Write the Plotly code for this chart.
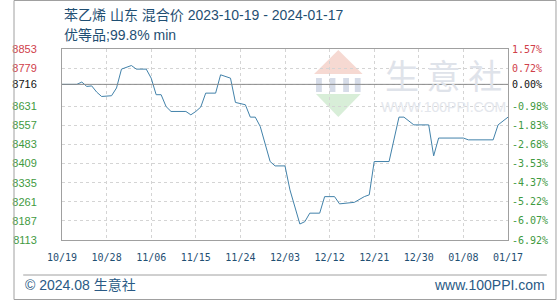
import plotly.graph_objects as go

# ---- data ----
dates = [
    "2023-10-19", "2023-10-22", "2023-10-23", "2023-10-24", "2023-10-25", "2023-10-26",
    "2023-10-27", "2023-10-29", "2023-10-30", "2023-10-31", "2023-11-02", "2023-11-03",
    "2023-11-05", "2023-11-06", "2023-11-07", "2023-11-08", "2023-11-09", "2023-11-10",
    "2023-11-13", "2023-11-14", "2023-11-15", "2023-11-16", "2023-11-17", "2023-11-19",
    "2023-11-20", "2023-11-22", "2023-11-23", "2023-11-25", "2023-11-26", "2023-11-27",
    "2023-11-28", "2023-11-30", "2023-12-01", "2023-12-03", "2023-12-04", "2023-12-06",
    "2023-12-07", "2023-12-08", "2023-12-10", "2023-12-11", "2023-12-13", "2023-12-14",
    "2023-12-17", "2023-12-19", "2023-12-20", "2023-12-21", "2023-12-24", "2023-12-26",
    "2023-12-27", "2023-12-29", "2024-01-01", "2024-01-02", "2024-01-03", "2024-01-04",
    "2024-01-08", "2024-01-09", "2024-01-14", "2024-01-15", "2024-01-17",
]
prices = [
    8716, 8716, 8725, 8708, 8710, 8686,
    8669, 8672, 8702, 8775, 8789, 8775,
    8775, 8740, 8676, 8676, 8630, 8611,
    8611, 8598, 8611, 8628, 8682, 8682,
    8753, 8740, 8646, 8637, 8589, 8589,
    8553, 8417, 8400, 8400, 8307, 8175,
    8184, 8217, 8217, 8281, 8281, 8253,
    8259, 8281, 8288, 8417, 8417, 8589,
    8589, 8559, 8559, 8439, 8508, 8508,
    8508, 8501, 8501, 8559, 8589,
]

base_price = 8716
y_ticks = [8853, 8779, 8716, 8631, 8557, 8483, 8409, 8335, 8261, 8187, 8113]
pct_labels = ["1.57%", "0.72%", "0.00%", "-0.98%", "-1.83%", "-2.68%", "-3.53%",
              "-4.37%", "-5.22%", "-6.07%", "-6.92%"]
x_tick_dates = ["2023-10-19", "2023-10-28", "2023-11-06", "2023-11-15", "2023-11-24",
                "2023-12-03", "2023-12-12", "2023-12-21", "2023-12-30", "2024-01-08",
                "2024-01-17"]
x_tick_labels = ["10/19", "10/28", "11/06", "11/15", "11/24", "12/03", "12/12",
                 "12/21", "12/30", "01/08", "01/17"]

title_line1 = "苯乙烯 山东 混合价 2023-10-19 - 2024-01-17"
title_line2 = "优等品;99.8% min"
footer_left = "© 2024.08 生意社"
footer_right = "www.100PPI.com"

# ---- styling ----
RED = "#d0404a"
GREEN = "#3f9a3f"
BLACK = "#111111"
BLUE_TXT = "#1f4f73"
LINE = "#4282aa"

W, H = 560, 300
L, R, T, B = 50, 50, 49, 60
PW, PH = W - L - R, H - T - B


def px(x):
    return (x - L) / PW


def py(y):
    return (H - B - y) / PH


def col(v):
    if v > base_price:
        return RED
    if v == base_price:
        return BLACK
    return GREEN


left_text = [f'<span style="color:{col(v)}">{v}</span>' for v in y_ticks]
right_text = [f'<span style="color:{col(v)}">{t}</span>' for v, t in zip(y_ticks, pct_labels)]

fig = go.Figure()
fig.add_trace(go.Scatter(x=dates, y=prices, mode="lines",
                         line=dict(color=LINE, width=1), hoverinfo="skip",
                         showlegend=False))
# invisible trace for the right axis
fig.add_trace(go.Scatter(x=[dates[0]], y=[base_price], yaxis="y2", mode="lines",
                         line=dict(width=0), hoverinfo="skip", showlegend=False))

yrange = [min(y_ticks), max(y_ticks)]

fig.update_layout(
    width=W, height=H,
    margin=dict(l=L, r=R, t=T, b=B, pad=0),
    paper_bgcolor="white", plot_bgcolor="white",
    xaxis=dict(
        type="date", range=[x_tick_dates[0], x_tick_dates[-1]],
        tickvals=x_tick_dates, ticktext=x_tick_labels,
        showgrid=True, gridcolor="#d4d4d4", griddash="dot", gridwidth=1,
        showline=True, linecolor="#a0a0a0", mirror=True, linewidth=1,
        zeroline=False, ticks="", ticklabelstandoff=8,
        tickfont=dict(family="DejaVu Sans Mono", size=10, color=BLUE_TXT),
    ),
    yaxis=dict(
        range=yrange, tickvals=y_ticks, ticktext=left_text,
        showgrid=True, gridcolor="#d4d4d4", griddash="dot", gridwidth=1,
        showline=True, linecolor="#a0a0a0", mirror=True, linewidth=1,
        zeroline=False, ticks="", ticklabelstandoff=22,
        tickfont=dict(family="Liberation Sans", size=11),
    ),
    yaxis2=dict(
        range=yrange, tickvals=y_ticks, ticktext=right_text,
        overlaying="y", side="right", showgrid=False, zeroline=False,
        showline=False, ticks="", ticklabelstandoff=3,
        tickfont=dict(family="DejaVu Sans Mono", size=10),
    ),
)

shapes = []
# base price line
shapes.append(dict(type="line", xref="paper", yref="y", x0=0, x1=1,
                   y0=base_price, y1=base_price, line=dict(color="#8a8a8a", width=1)))
# watermark logo
shapes.append(dict(type="path", xref="paper", yref="paper", layer="below",
                   path=f"M {px(310)} {py(74)} L {px(335)} {py(50)} L {px(360)} {py(74)} Z",
                   fillcolor="#f6d9d2", line=dict(width=0)))
for bx in (312, 326, 340, 352):
    shapes.append(dict(type="rect", xref="paper", yref="paper", layer="below",
                       x0=px(bx), x1=px(bx + 6), y0=py(92), y1=py(78),
                       fillcolor="#d6dce8", line=dict(width=0)))
shapes.append(dict(type="path", xref="paper", yref="paper", layer="below",
                   path=f"M {px(312)} {py(94)} L {px(335)} {py(117)} L {px(358)} {py(94)} Z",
                   fillcolor="#d8eed8", line=dict(width=0)))
# footer separator
shapes.append(dict(type="line", xref="paper", yref="paper", x0=px(10), x1=px(550),
                   y0=py(275), y1=py(275), line=dict(color="#a0a0a0", width=1)))
# outer border
shapes.append(dict(type="rect", xref="paper", yref="paper", x0=px(0.5), x1=px(559.5),
                   y0=py(299.5), y1=py(0.5), line=dict(color="#a0a0a0", width=1)))
fig.update_layout(shapes=shapes)

CJK = "Liberation Sans, Noto Sans CJK SC"
ann = [
    dict(text=title_line1, x=px(50), y=py(15), xanchor="left", yanchor="middle",
         font=dict(family=CJK, size=14, color=BLUE_TXT)),
    dict(text=title_line2, x=px(50), y=py(35), xanchor="left", yanchor="middle",
         font=dict(family=CJK, size=14, color=BLUE_TXT)),
    dict(text=footer_left, x=px(10), y=py(285), xanchor="left", yanchor="middle",
         font=dict(family=CJK, size=14, color="#2a5a85")),
    dict(text=footer_right, x=px(550), y=py(285), xanchor="right", yanchor="middle",
         font=dict(family="Liberation Sans", size=14, color="#2a5a85")),
    dict(text="生 意 社", x=px(443), y=py(74), xanchor="center", yanchor="middle",
         font=dict(family="Noto Sans CJK SC", size=34, color="#dfe3ea")),
    dict(text="WWW.100PPI.COM", x=px(443), y=py(107), xanchor="center", yanchor="middle",
         font=dict(family="Liberation Sans", size=14, color="#e3e6ec")),
]
for a in ann:
    a.update(xref="paper", yref="paper", showarrow=False)
fig.update_layout(annotations=ann)

fig.write_html("out.html")
